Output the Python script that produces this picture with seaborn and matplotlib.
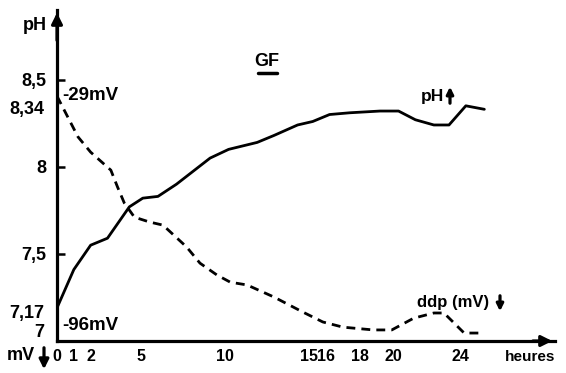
import matplotlib
matplotlib.use("Agg")
import matplotlib.pyplot as plt
import matplotlib.patches as mpatches
import seaborn as sns
import pandas as pd

# ---- data ----
ph_hours = [0, 1, 2, 3, 4.3, 5.1, 6, 7.1, 8.3, 9.1, 10.2, 11.9, 12.9, 14.3, 15.2,
            16.2, 17.4, 19.2, 20.3, 21.3, 22.4, 23.3, 24.3, 25.4]
ph_values = [7.19, 7.41, 7.55, 7.59, 7.77, 7.82, 7.83, 7.90, 7.99, 8.05, 8.10, 8.14,
             8.18, 8.24, 8.26, 8.30, 8.31, 8.32, 8.32, 8.27, 8.24, 8.24, 8.35, 8.33]

mv_hours = [0, 1.25, 2, 3.2, 3.6, 4.0, 4.6, 5.5, 6.3, 7.7, 8.5, 9.5, 10.3, 11.3,
            12.9, 14.6, 15.8, 17.0, 18.8, 19.9, 21.2, 22.4, 23.0, 24.2, 25.1]
mv_values = [-29, -40.8, -45.2, -50.4, -55.3, -59.9, -64.0, -65.4, -66.3, -72.6,
             -77.3, -80.7, -82.8, -83.6, -87.1, -91.4, -94.3, -95.8, -96.6, -96.6,
             -93.2, -91.7, -91.7, -97.5, -97.5]

x_ticks = [0, 1, 2, 5, 10, 15, 16, 18, 20, 24]
x_tick_labels = ["0", "1", "2", "5", "10", "15", "16", "18", "20", "24"]
y_major_ticks = [7.5, 8, 8.5]
y_major_labels = ["7,5", "8", "8,5"]
y_minor_ticks = [7, 7.17, 8.34]
y_minor_labels = ["7", "7,17", "8,34"]

sns.set_style("white")
plt.rcParams['font.family'] = ['Liberation Sans', 'DejaVu Sans']
plt.rcParams['font.weight'] = 'bold'
plt.rcParams['text.color'] = 'black'
plt.rcParams['xtick.color'] = 'black'
plt.rcParams['ytick.color'] = 'black'
plt.rcParams['axes.labelcolor'] = 'black'

W, H = 566, 373
fig = plt.figure(figsize=(W / 100, H / 100), dpi=100)

def fx(x):
    return x / W

def fy(y):
    return 1 - y / H

left, right, bottom, top = 57, 555, 341, 10
ax = fig.add_axes([fx(left), fy(bottom), fx(right) - fx(left), fy(top) - fy(bottom)])
ax2 = ax.twinx()
ax2.set_position(ax.get_position())

df_ph = pd.DataFrame({"h": ph_hours, "ph": ph_values})
df_mv = pd.DataFrame({"h": mv_hours, "mv": mv_values})

sns.lineplot(data=df_ph, x="h", y="ph", ax=ax, color="black", lw=2.0)
sns.lineplot(data=df_mv, x="h", y="mv", ax=ax2, color="black", lw=2.0)
ax2.lines[-1].set_linestyle((0, (3.2, 2.2)))

ax.set_xlim(0, 29.6)
ax.set_ylim(7, 8.90)
ax2.set_ylim(-99.8, -4.1)
ax2.axis("off")

for s in ["top", "right"]:
    ax.spines[s].set_visible(False)
for s in ["left", "bottom"]:
    ax.spines[s].set_linewidth(2.3)
    ax.spines[s].set_color("black")

ax.set_xlabel("")
ax.set_ylabel("")
ax.set_xticks(x_ticks, labels=x_tick_labels)
ax.tick_params(axis="x", direction="in", length=5, width=1.8, pad=6, labelsize=11.5)
ax.set_yticks(y_major_ticks, labels=y_major_labels)
ax.set_yticks(y_minor_ticks, labels=y_minor_labels, minor=True)
ax.tick_params(axis="y", which="major", direction="in", length=6, width=1.8, pad=8, labelsize=13)
ax.tick_params(axis="y", which="minor", length=0, pad=9, labelsize=13)
for lab in ax.get_xticklabels() + ax.get_yticklabels(which="both"):
    lab.set_fontweight("bold")
# the "7" label sits slightly above the axis line in the reference
for lab in ax.get_yticklabels(which="minor"):
    if lab.get_text() == "7":
        lab.set_verticalalignment("bottom")
        lab.set_y(7)

# axis arrows
ax.annotate("", xy=(0, 1.0), xytext=(0, 0.9), xycoords="axes fraction",
            arrowprops=dict(arrowstyle="-|>", color="black", lw=2.3, mutation_scale=16))
ax.annotate("", xy=(1.0, 0), xytext=(0.95, 0), xycoords="axes fraction",
            arrowprops=dict(arrowstyle="-|>", color="black", lw=2.3, mutation_scale=16))

# text annotations
fig.text(fx(35), fy(25), "pH", ha="center", va="center", fontsize=13, fontweight="bold")
fig.text(fx(530), fy(357), "heures", ha="center", va="center", fontsize=11, fontweight="bold")
fig.text(fx(21), fy(356), "mV", ha="center", va="center", fontsize=13, fontweight="bold")
fig.patches.append(mpatches.FancyArrowPatch(
    (fx(44), fy(345)), (fx(44), fy(372)), transform=fig.transFigure,
    arrowstyle="-|>", mutation_scale=14, color="black", lw=2.3))

fig.text(fx(267), fy(62), "GF", ha="center", va="center", fontsize=13, fontweight="bold")
fig.add_artist(plt.Line2D([fx(258), fx(277)], [fy(73), fy(73)], color="black", lw=2.5))

fig.text(fx(62), fy(95), "-29mV", ha="left", va="center", fontsize=13.5, fontweight="bold")
fig.text(fx(62), fy(326), "-96mV", ha="left", va="center", fontsize=13.5, fontweight="bold")

fig.text(fx(421), fy(97), "pH", ha="left", va="center", fontsize=12.5, fontweight="bold")
fig.patches.append(mpatches.FancyArrowPatch(
    (fx(450), fy(106)), (fx(450), fy(84)), transform=fig.transFigure,
    arrowstyle="-|>", mutation_scale=10, color="black", lw=2.3))

fig.text(fx(417), fy(302), "ddp (mV)", ha="left", va="center", fontsize=12, fontweight="bold")
fig.patches.append(mpatches.FancyArrowPatch(
    (fx(500), fy(293)), (fx(500), fy(314)), transform=fig.transFigure,
    arrowstyle="-|>", mutation_scale=10, color="black", lw=2.3))

fig.savefig("out.png", dpi=100)
